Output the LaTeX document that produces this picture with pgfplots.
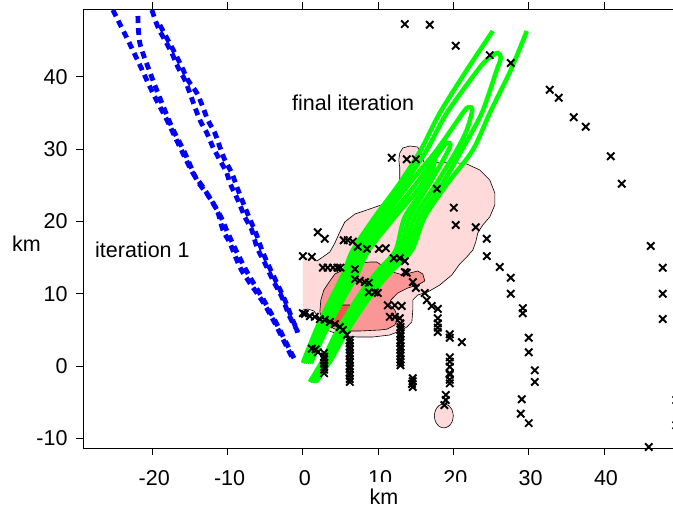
\documentclass[border=0pt]{standalone}
\usepackage{fontspec}
\setmainfont{Liberation Sans}
\usepackage{pgfplots}
\pgfplotsset{compat=1.18}
\definecolor{pinkA}{RGB}{255,218,218}
\definecolor{pinkB}{RGB}{250,150,150}
\definecolor{pinkC}{RGB}{250,80,80}
\definecolor{grn}{RGB}{0,255,0}
\definecolor{blu}{RGB}{0,0,255}

\begin{document}
\begin{tikzpicture}[x=1pt,y=1pt]
\begin{axis}[
  at={(83pt,62pt)}, anchor=south west,
  scale only axis, width=597pt, height=439pt,
  xmin=-29.2, xmax=50.1, ymin=-11.34, ymax=49.38,
  xtick={-20,-10,...,40}, ytick={-10,0,...,40},
  xtick pos=both, ytick pos=left, tick align=outside,
  major tick length=7pt,
  axis line style={black, line width=0.9pt},
  every tick/.style={black, line width=0.9pt},
  ticklabel style={font=\fontsize{21.5}{25}\selectfont},
  xticklabel style={yshift=-12pt, xshift=2pt},
  yticklabel style={xshift=-5pt},
  /pgf/number format/assume math mode=true,
]
% contour fills
\addplot[fill=pinkA, draw=none] coordinates {
 (0,15.08) (1.20,14.94) (1.86,14.52) (2.66,15.08) (3.59,15.77) (4.25,17.01) (4.91,18.53)
 (5.58,19.92) (6.91,21.02) (8.50,21.58) (11.16,22.54) (12.48,23.93) (12.88,25.73) (12.88,27.39)
 (12.75,28.49) (12.88,29.46) (13.28,30.15) (14.21,30.43) (15.27,30.29) (15.80,29.18) (16.07,28.22)
 (17.26,28.08) (19.52,28.22) (21.78,27.94) (23.51,27.11) (24.83,25.73) (25.50,23.93) (25.50,22.27)
 (24.83,20.61) (23.90,19.50) (23.24,18.40) (22.97,17.15) (22.58,16.04) (21.78,15.08) (20.85,14.11)
 (19.79,12.59) (18.19,11.20) (16.60,10.24) (15.27,9.82) (14.61,9.13) (14.61,7.75) (14.48,6.09)
 (13.81,5.39) (12.88,4.84) (11.55,4.29) (9.30,4.01) (7.17,4.01) (4.91,4.29) (3.19,4.98)
 (2.26,5.95) (1.99,6.92) (1.46,7.61) (0.66,7.88) (0,7.75)} -- cycle;
\addplot[black, line width=0.6pt] coordinates {
 (1.20,14.94) (1.86,14.52) (2.66,15.08) (3.59,15.77) (4.25,17.01) (4.91,18.53)
 (5.58,19.92) (6.91,21.02) (8.50,21.58) (11.16,22.54) (12.48,23.93) (12.88,25.73) (12.88,27.39)
 (12.75,28.49) (12.88,29.46) (13.28,30.15) (14.21,30.43) (15.27,30.29) (15.80,29.18) (16.07,28.22)
 (17.26,28.08) (19.52,28.22) (21.78,27.94) (23.51,27.11) (24.83,25.73) (25.50,23.93) (25.50,22.27)
 (24.83,20.61) (23.90,19.50) (23.24,18.40) (22.97,17.15) (22.58,16.04) (21.78,15.08) (20.85,14.11)
 (19.79,12.59) (18.19,11.20) (16.60,10.24) (15.27,9.82) (14.61,9.13) (14.61,7.75) (14.48,6.09)
 (13.81,5.39) (12.88,4.84) (11.55,4.29) (9.30,4.01) (7.17,4.01) (4.91,4.29) (3.19,4.98)
 (2.26,5.95) (1.99,6.92) (1.46,7.61) (0.66,7.88) (0,7.75)};
\addplot[fill=pinkB, draw=black, line width=0.6pt] coordinates {
 (2.26,7.47) (2.39,9.13) (2.79,10.51) (3.59,11.76) (4.25,12.72) (5.84,13.55) (7.84,14.25)
 (8.90,14.38) (9.83,14.38) (10.62,13.83) (11.95,13.00) (13.28,12.59) (14.21,12.86) (15.27,13.14)
 (15.94,12.72) (16.20,11.76) (15.27,11.20) (13.94,10.79) (12.62,10.10) (11.69,9.13) (11.55,8.44)
 (12.22,7.75) (12.62,6.64) (12.22,5.67) (11.2,5.1) (10.23,4.98) (7.57,4.84) (5.58,4.84)
 (4.25,5.12) (3.19,5.67) (2.52,6.64)} -- cycle;
\addplot[fill=pinkC, draw=black, line width=0.6pt] coordinates {
 (3.19,6.64) (3.59,7.33) (4.38,8.02) (5.31,8.44) (6.24,8.44) (6.64,7.75) (6.51,6.78)
 (5.84,6.09) (4.91,5.53) (3.85,5.53) (3.32,5.95)} -- cycle;
\addplot[fill=pinkA, draw=black, line width=0.6pt, smooth] coordinates {
 (19.99,-6.90) (19.82,-6.07) (19.36,-5.46) (18.73,-5.24) (18.10,-5.46) (17.64,-6.07)
 (17.47,-6.90) (17.64,-7.73) (18.10,-8.34) (18.73,-8.56) (19.36,-8.34) (19.82,-7.73) (19.99,-6.90)};
% iteration 1
\addplot[blu, line width=4.8pt, dash pattern=on 7pt off 5pt, smooth] coordinates {
 (-25.23,49.24) (-23.37,45.37) (-21.65,41.63) (-19.92,37.76) (-18.06,34.02) (-16.33,30.29)
 (-14.61,26.69) (-13.28,24.76) (-11.42,21.58) (-10.62,18.81) (-9.69,17.01) (-8.37,13.69)
 (-7.30,11.89) (-6.11,10.10) (-5.05,8.44) (-3.72,5.95) (-2.79,4.01) (-1.46,1.24)};
\addplot[blu, line width=4.8pt, dash pattern=on 7pt off 5pt, smooth] coordinates {
 (-21.91,48.41) (-21.65,44.67) (-20.32,40.66) (-18.99,37.07) (-17.40,33.06) (-15.67,29.46)
 (-14.08,25.73) (-12.62,23.65) (-11.02,20.89) (-9.96,18.40) (-8.90,16.04) (-7.70,13.55)
 (-6.64,11.62) (-5.44,9.54) (-4.38,7.61) (-3.19,5.26) (-2.26,3.32) (-1.06,0.83)};
\addplot[blu, line width=4.8pt, dash pattern=on 7pt off 5pt, smooth] coordinates {
 (-20.05,49.24) (-19.26,46.89) (-18.33,45.09) (-17.40,43.29) (-16.60,41.36) (-15.67,39.56)
 (-15.01,37.76) (-14.34,35.82) (-13.68,34.02) (-12.75,32.23) (-11.95,30.29) (-11.02,28.49)
 (-10.09,26.69) (-9.69,25.31) (-8.63,22.96) (-7.70,20.61) (-6.77,18.81) (-6.11,16.46)
 (-5.05,14.25) (-3.98,11.89) (-2.79,9.54) (-1.73,6.78) (-0.80,4.98) (-0.66,4.01)};
\addplot[blu, line width=4.8pt, dash pattern=on 7pt off 5pt, smooth] coordinates {
 (-18.99,47.16) (-17.93,45.09) (-17.00,43.29) (-16.07,41.36) (-15.27,39.56) (-14.08,37.76)
 (-13.28,35.82) (-12.62,34.02) (-11.69,32.23) (-11.02,30.29) (-10.36,28.49) (-9.43,26.69)
 (-8.76,24.76) (-7.97,22.68) (-7.04,20.33) (-6.24,18.40) (-5.44,16.04) (-4.52,13.83)
 (-3.45,11.48) (-2.39,9.13) (-1.46,6.64) (-0.66,4.70)};
% final iteration
\addplot[grn, line width=4.5pt, smooth] coordinates {
 (0,0.41) (1.59,4.56) (3.19,8.16) (5.31,12.59) (6.64,16.04) (9.56,20.61) (12.88,25.31)
 (15.67,29.88) (18.19,34.99) (21.78,40.94) (25.23,46.33)};
\addplot[grn, line width=4.5pt, smooth] coordinates {
 (29.75,46.33) (27.62,40.94) (24.83,34.99) (22.58,29.88) (19.26,25.31) (16.20,20.61)
 (14.48,16.04) (11.95,13.28) (9.30,10.10) (5.98,4.98) (3.72,0.83) (1.73,-2.21)};
\addplot[grn, line width=4.5pt, smooth] coordinates {
 (0.27,0.41) (1.93,4.56) (3.59,8.16) (5.78,12.59) (7.17,16.04) (10.23,20.61) (13.55,25.31)
 (16.47,29.88) (19.12,34.99) (23.24,40.94) (24.7,42.6) (25.9,43.3) (26.3,42.6) (25.76,40.94)
 (23.77,34.99) (21.12,29.88) (18.59,25.31) (15.54,20.61) (13.94,16.04) (11.49,13.28)
 (8.90,10.10) (5.64,4.98) (3.45,0.83) (1.53,-2.21)};
\addplot[grn, line width=4.5pt, smooth] coordinates {
 (0.53,0.41) (2.26,4.56) (3.98,8.16) (6.24,12.59) (7.70,16.04) (10.89,20.61) (14.21,25.31)
 (17.80,29.88) (21.25,34.99) (22.0,35.8) (22.5,35.4) (21.78,32.64) (20.45,29.88) (17.80,25.31)
 (14.87,20.61) (13.41,16.04) (11.02,13.28) (8.50,10.10) (5.31,4.98) (3.19,0.83) (1.33,-2.21)};
\addplot[grn, line width=4.5pt, smooth] coordinates {
 (0.80,0.41) (2.59,4.56) (4.38,8.16) (6.71,12.59) (8.23,16.04) (11.55,20.61) (15.14,25.31)
 (18.33,29.88) (19.1,30.85) (19.5,30.2) (16.87,25.31) (14.21,20.61) (12.88,16.04) (10.56,13.28)
 (8.10,10.10) (4.98,4.98) (2.92,0.83) (1.13,-2.21)};
\addplot[grn, line width=4.5pt, smooth] coordinates {
 (1.06,0.41) (2.92,4.56) (4.78,8.16) (7.17,12.59) (8.76,16.04) (12.22,20.61) (15.94,25.31)
 (17.1,28.8) (17.5,28.4) (16.60,25.31) (13.55,20.61) (12.35,16.04) (10.09,13.28) (7.70,10.10)
 (4.65,4.98) (2.66,0.83) (0.93,-2.21)};
% stations
\addplot[only marks, mark=x, mark size=5.2pt, mark options={black, line width=1.9pt}] coordinates {
 (13.55,47.3) (16.87,47.2) (20.32,44.3) (24.83,43.0) (27.62,41.9) (32.80,38.2) (34.00,37.1)
 (35.99,34.4) (37.58,33.1) (40.90,29.0) (42.36,25.2) (46.22,16.6) (47.81,13.6) (47.81,10.0)
 (47.81,6.5) (49.6,-4.7) (49.6,-8.2) (45.95,-11.2)
 (24.44,17.6) (24.44,15.2) (26.16,13.7) (27.62,12.2) (27.62,10.0) (29.22,8.0) (29.22,7.3)
 (30.01,3.9) (30.01,1.9) (30.81,-0.6) (30.81,-2.2) (29.08,-4.6) (28.95,-6.6) (30.01,-7.9)
 (11.82,28.8) (13.81,28.6) (15.01,28.6) (17.80,24.5) (20.05,21.9) (20.32,19.5) (22.97,19.2)
 (1.99,18.5) (2.92,17.6) (5.44,17.4) (5.98,17.4) (6.64,17.2) (7.30,16.5) (8.50,16.2)
 (10.09,16.2) (11.02,16.3) (0,15.2) (1.20,15.1)
 (2.66,13.6) (3.3,13.6) (4.0,13.6) (4.6,13.6) (5.0,13.6) (6.91,13.4)
 (6.91,12.0) (7.57,11.8) (8.23,11.6) (8.76,11.5) (8.76,10.2) (9.56,10.2) (9.96,10.1)
 (11.29,8.4) (12.22,8.4) (13.15,8.3) (11.55,6.8) (12.22,6.8) (12.88,6.6)
 (12.08,14.9) (12.88,14.9) (13.55,14.5) (13.55,13.0) (13.81,12.9) (14.61,11.6) (15.01,10.8)
 (16.20,10.1) (16.47,9.1) (17.13,8.3) (17.93,7.9)
 (17.93,6.6) (17.93,5.9) (17.93,5.3) (17.93,4.7) (19.52,4.4) (19.52,3.9) (21.12,3.3)
 (19.52,1.2) (19.52,0.6) (19.52,-0.1) (19.52,-1.0) (19.52,-1.2) (19.52,-1.9) (19.52,-2.4)
 (18.99,-4.0) (18.99,-4.7) (18.8,-5.4)
 (14.6,-1.7) (14.6,-2.1) (14.5,-2.5) (14.6,-2.9)
 (12.97,5.9) (12.97,5.4) (12.97,5.0) (12.97,4.5) (12.97,4.1) (12.97,3.6) (12.97,3.2)
 (12.97,2.7) (12.97,2.3) (12.97,1.8) (12.97,1.4) (12.97,0.9) (12.97,0.5) (12.97,0.1)
 (6.24,3.6) (6.24,3.2) (6.24,2.7) (6.24,2.3) (6.24,1.8) (6.24,1.4) (6.24,0.9) (6.24,0.5)
 (6.24,0.0) (6.24,-0.4) (6.24,-0.9) (6.24,-1.3) (6.24,-1.8) (6.24,-2.2)
 (2.83,1.8) (2.83,1.3) (2.83,0.9) (2.83,0.4) (2.83,-0.1) (2.83,-0.5) (2.83,-1.0)
 (1.2,2.4) (1.7,2.3) (2.0,1.9)
 (0,7.3) (0.27,7.2) (0.93,6.9) (1.59,6.8) (2.26,6.5) (2.92,6.4) (3.59,6.1) (4.25,5.8)
 (4.91,5.4) (5.31,5.0) (5.84,4.3)};
\end{axis}
\fill[white] (360,0) rectangle (480,28);
\node[anchor=base, font=\fontsize{21.5}{25}\selectfont, inner sep=0pt] at (384,5) {km};
\node[anchor=base west, font=\fontsize{21.5}{25}\selectfont, inner sep=0pt] at (12,258) {km};
\node[anchor=base west, font=\fontsize{21.5}{25}\selectfont, inner sep=0pt] at (292,399) {final iteration};
\node[anchor=base west, font=\fontsize{21.5}{25}\selectfont, inner sep=0pt] at (95,252) {iteration 1};
\pgfresetboundingbox
\useasboundingbox (0,0) rectangle (673,510);
\end{tikzpicture}
\end{document}
